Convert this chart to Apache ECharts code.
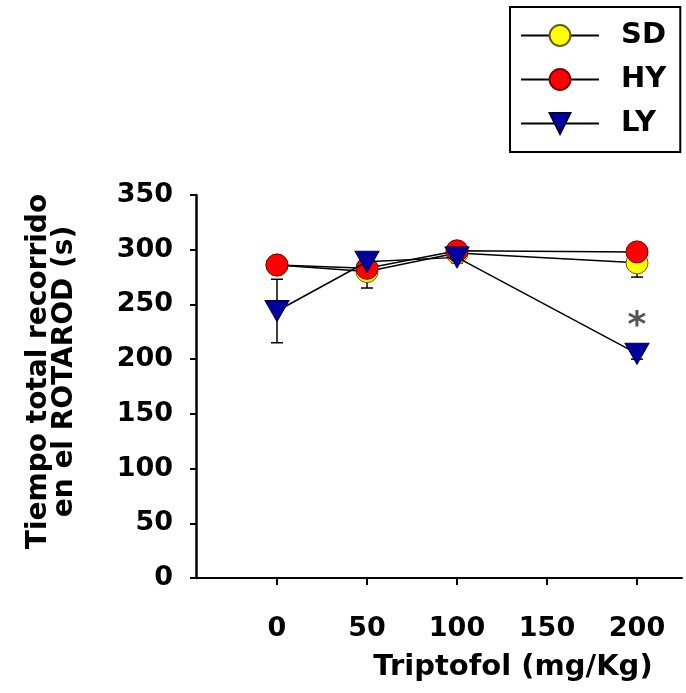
<!DOCTYPE html>
<html>
<head>
<meta charset="utf-8">
<script src="https://cdn.jsdelivr.net/npm/echarts@6/dist/echarts.min.js"></script>
<style>
  html, body { margin: 0; padding: 0; background: #fff; }
  #chart { width: 686px; height: 693px; }
</style>
</head>
<body>
<div id="chart"></div>
<script>
// dosis de triptofol (mg/Kg)
var doses = [0, 50, 100, 200];
var xTicks = [0, 50, 100, 150, 200];

// tiempo medio y error por grupo
var sdMean = [286, 280, 297, 288];
var sdErr = [5, 15, 5, 13];
var hyMean = [286, 283, 299, 298];
var hyErr = [5, 5, 4, 5];
var lyMean = [244, 289, 293, 205];
var lyErr = [29, 5, 5, 5];

var FONT = "DejaVu Sans";

function pairs(mean) {
  return doses.map(function (d, i) { return [d, mean[i]]; });
}
function errRows(mean, err) {
  return doses.map(function (d, i) { return [d, mean[i] - err[i], mean[i] + err[i]]; });
}

function errorBar(params, api) {
  var x = api.value(0);
  var lo = api.coord([x, api.value(1)]);
  var hi = api.coord([x, api.value(2)]);
  var w = 6;
  var st = { stroke: "#000", lineWidth: 1.5 };
  return {
    type: "group",
    children: [
      { type: "line", shape: { x1: hi[0], y1: hi[1], x2: lo[0], y2: lo[1] }, style: st },
      { type: "line", shape: { x1: hi[0] - w, y1: hi[1], x2: hi[0] + w, y2: hi[1] }, style: st },
      { type: "line", shape: { x1: lo[0] - w, y1: lo[1], x2: lo[0] + w, y2: lo[1] }, style: st },
    ],
  };
}

var lyData = pairs(lyMean);
lyData[3] = {
  value: lyData[3],
  label: {
    show: true,
    formatter: "*",
    position: "top",
    distance: -2,
    color: "#555",
    fontSize: 36,
    fontWeight: "bold",
    fontFamily: FONT,
  },
};

var chart = echarts.init(document.getElementById("chart"));
var option = {
  animation: false,
  backgroundColor: "#fff",
  grid: { left: 196, right: 4, top: 195, bottom: 115 },
  legend: {
    orient: "vertical",
    left: 510,
    top: 7,
    padding: [14, 14, 14, 10],
    borderColor: "#000",
    borderWidth: 2,
    itemWidth: 78,
    itemHeight: 26,
    itemGap: 15,
    lineStyle: { width: 2, color: "#000" },
    textStyle: {
      fontFamily: FONT,
      fontWeight: "bold",
      fontSize: 29,
      color: "#000",
      lineHeight: 26,
      padding: [0, 0, 0, 17],
    },
    data: ["SD", "HY", "LY"],
  },
  xAxis: {
    type: "value",
    min: -45,
    max: 225,
    name: "Triptofol (mg/Kg)",
    nameLocation: "middle",
    nameGap: 75,
    nameTextStyle: {
      fontFamily: FONT,
      fontWeight: "bold",
      fontSize: 29,
      color: "#000",
      padding: [0, 0, 0, 148],
    },
    axisLine: { lineStyle: { color: "#000", width: 2 } },
    axisTick: { customValues: xTicks, length: 7, lineStyle: { color: "#000", width: 2 } },
    axisLabel: {
      customValues: xTicks,
      margin: 37,
      fontFamily: FONT,
      fontWeight: "bold",
      fontSize: 27,
      color: "#000",
    },
    splitLine: { show: false },
  },
  yAxis: {
    type: "value",
    min: 0,
    max: 350,
    interval: 50,
    name: "Tiempo total recorrido\nen el ROTAROD (s)",
    nameLocation: "middle",
    nameGap: 118,
    nameTextStyle: {
      fontFamily: FONT,
      fontWeight: "bold",
      fontSize: 28,
      lineHeight: 26,
      color: "#000",
      padding: [0, 0, 0, 30],
    },
    axisLine: { show: true, onZero: false, lineStyle: { color: "#000", width: 2.5 } },
    axisTick: { show: true, length: 6, lineStyle: { color: "#000", width: 2 } },
    axisLabel: {
      margin: 23,
      fontFamily: FONT,
      fontWeight: "bold",
      fontSize: 27,
      color: "#000",
    },
    splitLine: { show: false },
  },
  series: [
    { type: "custom", renderItem: errorBar, data: errRows(sdMean, sdErr), z: 1, silent: true },
    { type: "custom", renderItem: errorBar, data: errRows(hyMean, hyErr), z: 1, silent: true },
    { type: "custom", renderItem: errorBar, data: errRows(lyMean, lyErr), z: 1, silent: true },
    {
      name: "SD",
      type: "line",
      data: pairs(sdMean),
      symbol: "circle",
      symbolSize: 22,
      lineStyle: { color: "#000", width: 1.5 },
      itemStyle: { color: "#ffff00", borderColor: "#6b5a00", borderWidth: 1 },
      z: 2,
    },
    {
      name: "HY",
      type: "line",
      data: pairs(hyMean),
      symbol: "circle",
      symbolSize: 22,
      lineStyle: { color: "#000", width: 1.5 },
      itemStyle: { color: "#ff0000", borderColor: "#7a0000", borderWidth: 1 },
      z: 3,
    },
    {
      name: "LY",
      type: "line",
      data: lyData,
      symbol: "triangle",
      symbolRotate: 180,
      symbolSize: [24, 21],
      lineStyle: { color: "#000", width: 1.5 },
      itemStyle: { color: "#0000a0", borderColor: "#000040", borderWidth: 1 },
      z: 4,
    },
  ],
};
chart.setOption(option);
</script>
</body>
</html>
